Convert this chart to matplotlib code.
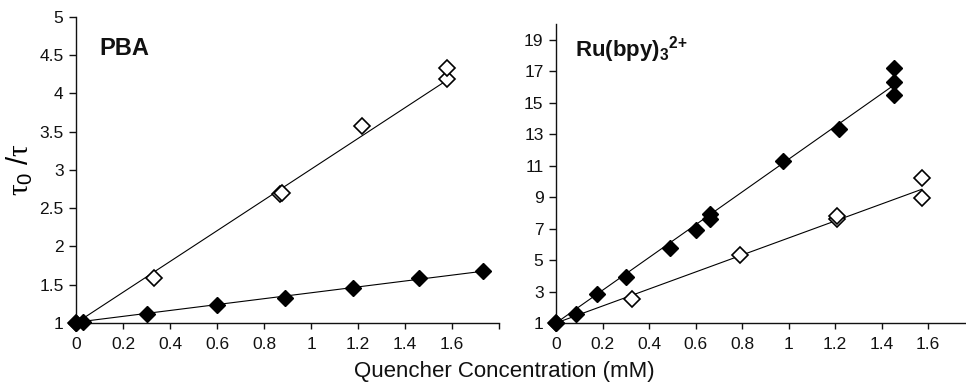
from matplotlib import pyplot as plt
from matplotlib.ticker import FuncFormatter
import numpy as np

plt.rcParams['font.family'] = ['Liberation Sans', 'DejaVu Sans']
plt.rcParams['mathtext.fontset'] = 'custom'
plt.rcParams['mathtext.rm'] = 'Liberation Sans'
plt.rcParams['mathtext.bf'] = 'Liberation Sans:bold'
plt.rcParams['mathtext.it'] = 'Liberation Serif'

# PBA panel
pba_filled_x = [0, 0.03, 0.30, 0.60, 0.89, 1.18, 1.46, 1.73]
pba_filled_y = [1.0, 1.01, 1.12, 1.24, 1.33, 1.46, 1.59, 1.68]
pba_open_x = [0, 0.33, 0.87, 0.875, 1.215, 1.58, 1.58]
pba_open_y = [1.0, 1.59, 2.68, 2.70, 3.57, 4.19, 4.33]
pba_filled_fit = [1.01, 0.385]   # intercept, slope
pba_open_fit = [1.0, 2.01]

# Ru(bpy)3 2+ panel
ru_filled_x = [0, 0.087, 0.175, 0.30, 0.49, 0.60, 0.66, 0.66, 0.978, 1.217, 1.452, 1.452, 1.452]
ru_filled_y = [1.0, 1.55, 2.82, 3.93, 5.79, 6.89, 7.63, 7.94, 11.3, 13.35, 15.5, 16.3, 17.2]
ru_open_x = [0, 0.325, 0.79, 1.21, 1.21, 1.573, 1.573]
ru_open_y = [1.0, 2.5, 5.3, 7.63, 7.77, 8.93, 10.2]
ru_filled_fit = [1.0, 10.4]
ru_open_fit = [1.0, 5.4]

x_ticks = [0, 0.2, 0.4, 0.6, 0.8, 1.0, 1.2, 1.4, 1.6]
pba_y_ticks = [1, 1.5, 2, 2.5, 3, 3.5, 4, 4.5, 5]
ru_y_ticks = [1, 3, 5, 7, 9, 11, 13, 15, 17, 19]

fig = plt.figure(figsize=(9.66, 3.85), dpi=100)
ax1 = fig.add_axes([0.0787, 0.161, 0.4379, 0.795])
ax2 = fig.add_axes([0.5756, 0.161, 0.4244, 0.777])

fmt = FuncFormatter(lambda v, p: "%g" % v)


def style(ax):
    for s in ["top", "right"]:
        ax.spines[s].set_visible(False)
    for s in ["left", "bottom"]:
        ax.spines[s].set_linewidth(1.0)
        ax.spines[s].set_color("#111111")
    ax.tick_params(direction="out", length=5, width=1.0, labelsize=12.5,
                   colors="#111111", pad=4)
    ax.tick_params(axis="x", length=4, pad=6)
    ax.xaxis.set_major_formatter(fmt)
    ax.yaxis.set_major_formatter(fmt)


def draw(ax, fx, fy, ffit, ox, oy, ofit):
    xf = np.array([0, max(fx)])
    ax.plot(xf, ffit[0] + ffit[1] * xf, color="black", lw=0.8, zorder=2)
    xo = np.array([0, max(ox)])
    ax.plot(xo, ofit[0] + ofit[1] * xo, color="black", lw=0.8, zorder=2)
    ax.plot(ox, oy, linestyle="none", marker="D", ms=8, mfc="white",
            mec="black", mew=1.2, zorder=3, clip_on=False)
    ax.plot(fx, fy, linestyle="none", marker="D", ms=8, mfc="black",
            mec="black", mew=1.0, zorder=4, clip_on=False)


draw(ax1, pba_filled_x, pba_filled_y, pba_filled_fit,
     pba_open_x, pba_open_y, pba_open_fit)
ax1.set_xlim(0, 1.8)
ax1.set_ylim(1, 5)
ax1.set_xticks(x_ticks + [1.8])
ax1.set_yticks(pba_y_ticks)
style(ax1)
ax1.set_xticklabels(["%g" % t for t in x_ticks] + [""])
ax1.text(0.10, 4.5, "PBA", fontsize=17, fontweight="bold", color="#111111")
ax1.set_ylabel(r"$\tau_0\ /\tau$", fontsize=21, labelpad=3)

draw(ax2, ru_filled_x, ru_filled_y, ru_filled_fit,
     ru_open_x, ru_open_y, ru_open_fit)
ax2.set_xlim(0, 1.763)
ax2.set_ylim(1, 20)
ax2.set_xticks(x_ticks)
ax2.set_yticks(ru_y_ticks)
style(ax2)
ax2.text(0.08, 17.9, r"$\mathbf{Ru(bpy)_3{}^{2{+}}}$", fontsize=16,
         color="#111111")

fig.text(0.522, 0.034, "Quencher Concentration (mM)", fontsize=16,
         ha="center", va="center", color="#111111")

fig.savefig("out.png", dpi=100)
